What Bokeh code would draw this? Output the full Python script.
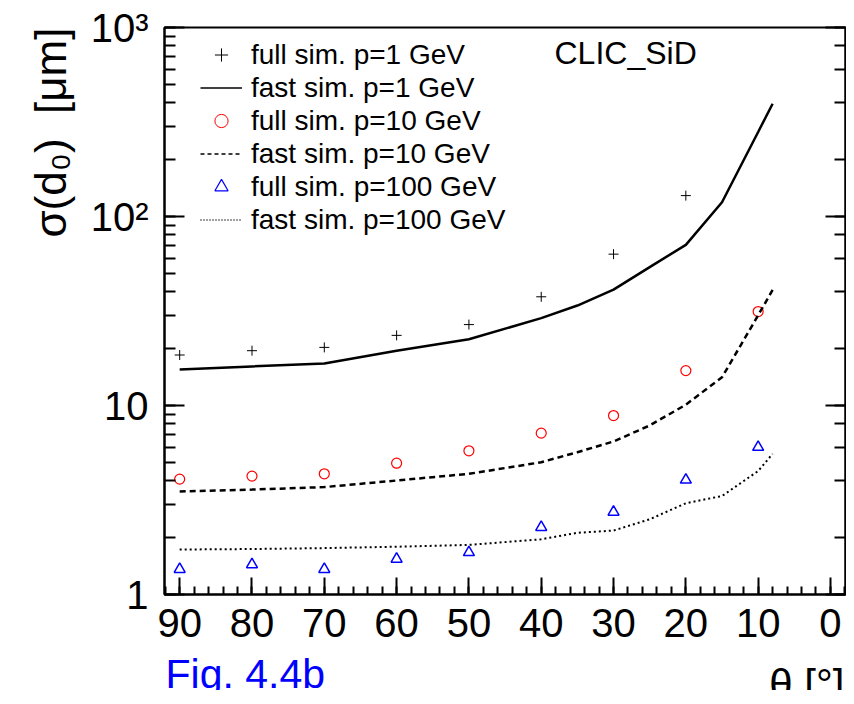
import math
from bokeh.plotting import figure
from bokeh.layouts import column
from bokeh.models import (Range1d, LogAxis, LogTicker, SingleIntervalTicker, Label, Title,
                          Legend, LegendItem, ColumnDataSource)
from bokeh.core.properties import value
from bokeh.embed import file_html
from bokeh.resources import INLINE

# ---------------- data ----------------
theta_full_p1 = [90, 80, 70, 60, 50, 40, 30, 20]
full_p1 = [18.5, 19.5, 20.3, 23.5, 26.8, 37.6, 63.2, 129]

theta_full = [90, 80, 70, 60, 50, 40, 30, 20, 10]
full_p10 = [4.08, 4.23, 4.35, 4.95, 5.76, 7.14, 8.85, 15.3, 31.4]
full_p100 = [1.36, 1.44, 1.36, 1.54, 1.67, 2.27, 2.73, 4.04, 6.02]

theta_fast = [90, 80, 70, 60, 50, 40, 35, 30, 25, 20, 15, 10, 8]
fast_p1 = [15.5, 16.1, 16.7, 19.5, 22.4, 29.0, 33.8, 41.0, 54.0, 70.8, 119, 280, 395]
fast_p10 = [3.51, 3.59, 3.70, 4.01, 4.35, 5.01, 5.66, 6.45, 7.84, 10.1, 14.1, 30.0, 40.9]
fast_p100 = [1.73, 1.74, 1.76, 1.79, 1.83, 1.96, 2.12, 2.18, 2.5, 3.04, 3.32, 4.5, 5.55]

y_tick_labels = {1: "1", 10: "10", 100: "10\u00b2", 1000: "10\u00b3"}
legend_labels = ["full sim. p=1 GeV", "fast sim. p=1 GeV",
                 "full sim. p=10 GeV", "fast sim. p=10 GeV",
                 "full sim. p=100 GeV", "fast sim. p=100 GeV"]
fig_label = "Fig. 4.4b"
x_title = "\u03b8 [\u00b0]"

FONT = "Liberation Sans"

p = figure(frame_width=681, frame_height=567,
           x_range=Range1d(92.1, -2.08), y_range=Range1d(1, 1000),
           y_axis_type="log", output_backend="svg", toolbar_location=None,
           min_border_left=164, min_border_top=27, min_border_right=1,
           min_border_bottom=60)
p.grid.visible = False
p.outline_line_color = "black"
p.outline_line_width = 2
p.background_fill_color = "white"
p.border_fill_color = "white"

# x axis
xa = p.xaxis[0]
xa.ticker = SingleIntervalTicker(interval=10, num_minor_ticks=5)
xa.axis_line_width = 2
xa.major_tick_line_width = 2
xa.minor_tick_line_width = 2
xa.major_tick_in = 17
xa.major_tick_out = 0
xa.minor_tick_in = 8
xa.minor_tick_out = 0
xa.major_label_text_font = FONT
xa.major_label_text_font_size = "40px"
xa.major_label_text_color = "black"
xa.major_label_standoff = 14

# y axis
ya = p.yaxis[0]
ya.axis_line_width = 2
ya.major_tick_line_width = 2
ya.minor_tick_line_width = 2
ya.major_tick_in = 20
ya.major_tick_out = 0
ya.minor_tick_in = 11
ya.minor_tick_out = 0
ya.major_label_text_font = FONT
ya.major_label_text_font_size = "40px"
ya.major_label_text_color = "black"
ya.major_label_standoff = 16
ya.major_label_overrides = y_tick_labels

ra = LogAxis(ticker=LogTicker(), axis_line_width=2, major_tick_line_width=2,
             minor_tick_line_width=2, major_tick_in=20, major_tick_out=0,
             minor_tick_in=11, minor_tick_out=0, major_label_text_font_size="1px",
             major_label_text_color=None, major_label_standoff=0)
p.add_layout(ra, "right")

# y axis title (top aligned, rotated)
ytitle = Title(text="\u03c3(d\u2080) \u00a0[\u03bcm]", align="right", text_font=FONT,
               text_font_size="44px", text_font_style="normal", text_color="black",
               standoff=25)
p.add_layout(ytitle, "left")

# ---------------- data glyphs ----------------
p.scatter(theta_full_p1, full_p1, marker="cross", size=10, line_color="black", line_width=1)
p.line(theta_fast, fast_p1, line_color="black", line_width=2.5)
p.scatter(theta_full, full_p10, marker="circle", size=10, fill_color=None,
          line_color="red", line_width=1.2)
p.line(theta_fast, fast_p10, line_color="black", line_width=2.5, line_dash="6 4")
p.scatter(theta_full, full_p100, marker="triangle", size=11, fill_color=None,
          line_color="blue", line_width=1.5)
p.line(theta_fast, fast_p100, line_color="black", line_width=2, line_dash="2 3")

# legend-only renderers (a single NaN row: nothing is drawn in the plot)
def blank():
    return ColumnDataSource(data=dict(x=[float("nan")], y=[float("nan")]))

l1 = p.scatter("x", "y", source=blank(), marker="cross", size=7, line_color="black", line_width=1)
l2 = p.line("x", "y", source=blank(), line_color="black", line_width=1.5)
l3 = p.scatter("x", "y", source=blank(), marker="circle", size=8, fill_color=None,
               line_color="red", line_width=1)
l4 = p.line("x", "y", source=blank(), line_color="black", line_width=1.5, line_dash="4 3")
l5 = p.scatter("x", "y", source=blank(), marker="triangle", size=9, fill_color=None,
               line_color="blue", line_width=1.2)
l6 = p.line("x", "y", source=blank(), line_color="black", line_width=1.3, line_dash="1 2")

items = [LegendItem(label=lab, renderers=[r]) for lab, r in
         zip(legend_labels, [l1, l2, l3, l4, l5, l6])]
legend = Legend(items=items, location=(36, 358), padding=0, spacing=0,
                glyph_width=42, glyph_height=33, label_height=33, label_standoff=9,
                label_text_font=FONT, label_text_font_size="28px",
                label_text_color="black",
                border_line_color=None, background_fill_alpha=0, margin=0)
p.add_layout(legend)

p.add_layout(Label(x=390, y=542, x_units="screen", y_units="screen", text="CLIC_SiD",
                   text_font=FONT, text_font_size="32px", text_baseline="alphabetic",
                   text_color="black"))

# ---------------- strip under the plot: "Fig. 4.4b" and the x-axis title ----------------
# its frame is aligned with the main frame, so x is measured in page pixels
p2 = figure(width=846, height=36, x_range=Range1d(164, 845), y_range=Range1d(0, 36),
            x_axis_location=None, y_axis_location=None, toolbar_location=None,
            output_backend="svg", min_border=0)
p2.xgrid.visible = False
p2.ygrid.visible = False
p2.outline_line_color = None
p2.background_fill_color = "white"
p2.border_fill_color = "white"
p2.text(x=[165], y=[17], text=[fig_label], text_font=value(FONT),
        text_font_size=value("41px"), text_color=value("blue"),
        text_align=value("left"), text_baseline=value("alphabetic"))
p2.text(x=[844], y=[6], text=[x_title], text_font=value(FONT),
        text_font_size=value("42px"), text_color=value("black"),
        text_align=value("right"), text_baseline=value("alphabetic"))

layout = column(p, p2, spacing=0)
open("out.html", "w").write(file_html(layout, INLINE))
